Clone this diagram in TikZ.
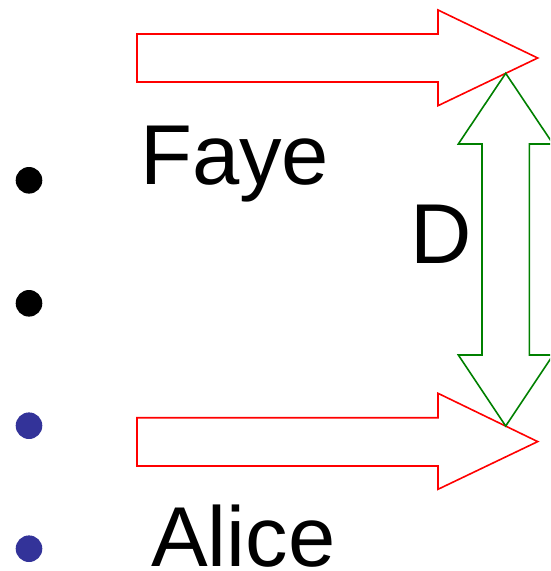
\documentclass[tikz,border=0pt]{standalone}
\usepackage{fontspec}
\setmainfont{Liberation Sans}
\definecolor{bulletblue}{HTML}{333399}
\definecolor{arrowgreen}{HTML}{008000}
\begin{document}
\begin{tikzpicture}[x=1pt,y=-1pt,
  redarrow/.style={draw=red,line width=1.6pt,line join=miter},
  greenarrow/.style={draw=arrowgreen,line width=1.6pt,line join=miter},
  label/.style={inner sep=0pt,anchor=base west,font=\fontsize{85}{90}\selectfont},
  dot/.style={circle,inner sep=0pt,minimum size=26.6pt}]
\useasboundingbox (0,0) rectangle (550,571);
\clip (0,0) rectangle (550,571);
% red arrows
\draw[redarrow] (137,34) -- (438,34) -- (438,10) -- (537.7,58) -- (438,105.7) -- (438,82) -- (137,82) -- cycle;
\draw[redarrow] (137,417.7) -- (438,417.7) -- (438,393.3) -- (537.7,441.6) -- (438,489.3) -- (438,466) -- (137,466) -- cycle;
% green double arrow
\draw[greenarrow] (505.7,73.3) -- (553.1,144) -- (529.4,144) -- (529.4,355) -- (553.1,355) -- (505.7,426) -- (458.3,355) -- (482,355) -- (482,144) -- (458.3,144) -- cycle;
% bullets
\node[dot,fill=black] (b1) at (29,180.3) {};
\node[dot,fill=black] (b2) at (29,303.3) {};
\node[dot,fill=bulletblue] (b3) at (29,425.7) {};
\node[dot,fill=bulletblue] (b4) at (29,548.7) {};
% labels
\node[label] (faye) at (140,184.5) {Faye};
\node[label] (d) at (410.5,263.5) {D};
\node[label] (alice) at (151,566) {Alice};
\end{tikzpicture}
\end{document}
